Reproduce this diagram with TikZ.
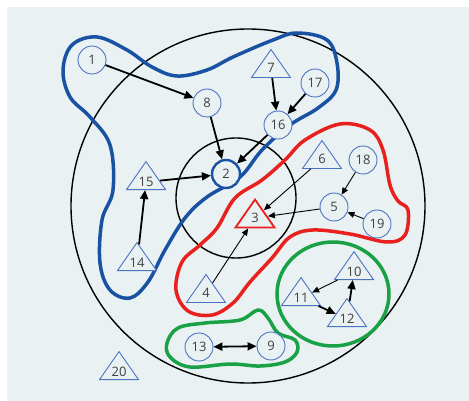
\documentclass[tikz,border=0pt]{standalone}
\usepackage{fontspec}
\setmainfont{Open Sans}
\definecolor{nodecolor}{rgb}{0.30, 0.45, 0.76}
\definecolor{lettercolor}{rgb}{0.25, 0.25, 0.25}
\definecolor{bgcolor}{rgb}{0.914, 0.945, 0.949}
\definecolor{bluezone}{rgb}{0.10, 0.32, 0.64}
\definecolor{redzone}{rgb}{0.91, 0.13, 0.12}
\definecolor{greenzone}{rgb}{0.10, 0.63, 0.27}
\usetikzlibrary{arrows.meta,shapes.geometric}
\tikzset{
	place/.style={
		circle,
		line width=0.9pt,
		draw=nodecolor,
		fill=bgcolor,
		text=lettercolor,
		font=\fontsize{13}{13}\selectfont,
		inner sep=0pt,
		minimum size=28pt
	},
	tri/.style={
		isosceles triangle,
		isosceles triangle stretches,
		shape border rotate=90,
		line width=0.9pt,
		draw=nodecolor,
		fill=bgcolor,
		text=lettercolor,
		font=\fontsize{13}{13}\selectfont,
		inner sep=0pt,
		minimum width=39pt,
		minimum height=28pt
	},
	arrow/.style={
		draw=black,
		line width=1.8pt,
		-{Triangle[length=9pt,width=8pt]}
	},
	thinarrow/.style={
		draw=black,
		line width=0.9pt,
		-{Triangle[length=7pt,width=6pt]}
	},
	twoway/.style={
		arrow,
		{Triangle[length=9pt,width=8pt]}-{Triangle[length=9pt,width=8pt]}
	},
	ring/.style={
		draw=black,
		line width=1.4pt
	},
	zone/.style={
		line width=3.5pt
	},
}

\begin{document}
\begin{tikzpicture}[x=1pt,y=-1pt]
\useasboundingbox (0,0) rectangle (469,401);
\fill[bgcolor] (7,7) rectangle (469,401);

\draw[ring] (248,206) circle[radius=177pt];
\draw[ring] (236,198) circle[radius=60pt];

\draw[zone,draw=bluezone] plot[smooth cycle,tension=0.6] coordinates {
	(97,37) (127,50) (152,67) (177,76) (207,70) (233,57) (273,40) (297,33)
	(327,40) (337,63) (336,90) (318,108) (290,125) (262,150) (240,177)
	(207,197) (185,218) (165,250) (148,282) (130,298) (110,290) (100,263)
	(102,220) (113,190) (110,145) (90,117) (70,97) (63,70) (72,45)};
\draw[zone,draw=redzone] plot[smooth cycle,tension=0.6] coordinates {
	(340,124) (370,130) (383,150) (390,185) (398,201) (408,210) (405,235)
	(387,242) (350,234) (313,230) (290,237) (272,258) (250,282) (233,303)
	(212,315) (188,311) (176,290) (182,262) (200,245) (217,228) (235,198)
	(262,180) (285,160) (305,140)};
\draw[zone,draw=greenzone] (333,294) ellipse[x radius=56pt,y radius=52pt];
\draw[zone,draw=greenzone] plot[smooth cycle,tension=0.6] coordinates {
	(167,343) (178,328) (205,323) (240,320) (258,310) (268,318) (278,333)
	(295,340) (297,352) (285,362) (260,366) (230,364) (190,367) (170,357)};

\node [place] (n1) at (92,60) {1};
\node [place,draw=bluezone,line width=2.4pt] (n2) at (226,174) {2};
\node [tri,draw=redzone,line width=1.8pt] (n3) at (255,218) {3};
\node [tri] (n4) at (206,293) {4};
\node [place] (n5) at (334,207) {5};
\node [tri] (n6) at (322,159) {6};
\node [tri] (n7) at (271,68) {7};
\node [place] (n8) at (207,103) {8};
\node [place] (n9) at (271,346) {9};
\node [tri] (n10) at (354,272) {10};
\node [tri] (n11) at (301,298) {11};
\node [tri] (n12) at (347,319) {12};
\node [place] (n13) at (199,347) {13};
\node [tri] (n14) at (137,263) {14};
\node [tri] (n15) at (146,182) {15};
\node [place] (n16) at (278,125) {16};
\node [place] (n17) at (315,83) {17};
\node [place] (n18) at (363,160) {18};
\node [place] (n19) at (377,224) {19};
\node [tri] (n20) at (119,372) {20};

\path
(n1) edge[arrow] (n8)
(n8) edge[arrow] (n2)
(n7) edge[arrow] (n16)
(n17) edge[arrow] (n16)
(n16) edge[arrow] (n2)
(n15) edge[arrow] (n2)
(n14) edge[arrow] (n15)
(n6) edge[thinarrow] (n3)
(n5) edge[thinarrow] (n3)
(n4) edge[thinarrow] (n3)
(n18) edge[thinarrow] (n5)
(n19) edge[thinarrow] (n5)
(n10) edge[thinarrow] (n11)
(n11) edge[arrow] (n12)
(n12) edge[arrow] (n10)
(n13) edge[twoway] (n9)
;
\end{tikzpicture}
\end{document}
